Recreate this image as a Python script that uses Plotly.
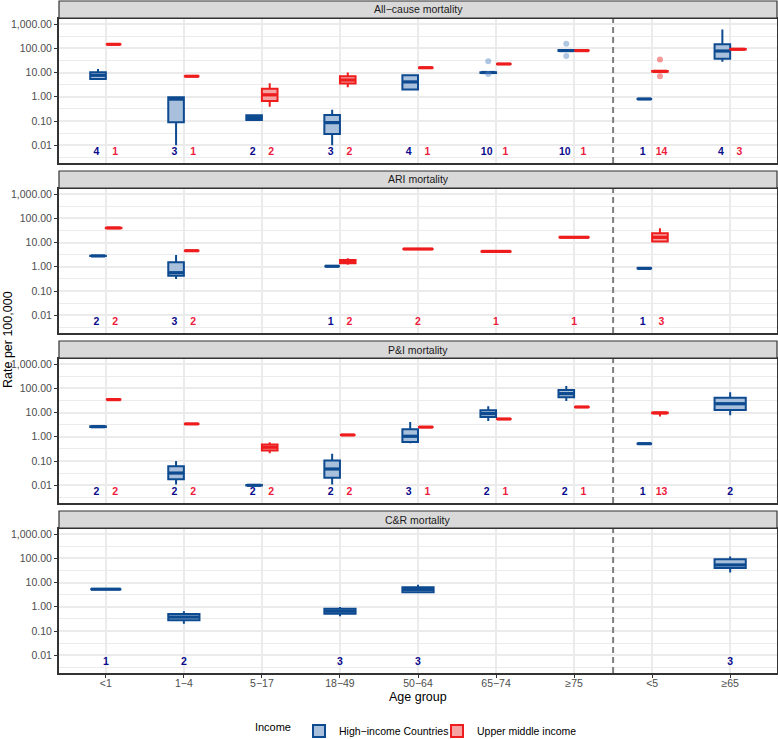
import plotly.graph_objects as go

# ---------------- data ----------------
AGE_GROUPS = ["<1", "1−4", "5−17", "18−49", "50−64", "65−74", "≥75", "<5", "≥65"]
PANEL_TITLES = ["All−cause mortality", "ARI mortality", "P&I mortality", "C&R mortality"]
INCOME_GROUPS = ["High−income Countries", "Upper middle income"]
Y_TICK_VALUES = [0.01, 0.1, 1, 10, 100, 1000]
Y_TICK_LABELS = ["0.01", "0.10", "1.00", "10.00", "100.00", "1,000.00"]
Y_MINOR_VALUES = [10 ** -2.5, 10 ** -1.5, 10 ** -0.5, 10 ** 0.5, 10 ** 1.5, 10 ** 2.5]

# box statistics per age group: (lower whisker, q1, median, q3, upper whisker); None = no data
ALLCAUSE_HIC = [(5.4, 5.4, 7.7, 10.2, 14), (0.01, 0.089, 0.8, 0.95, 1.0), (0.1, 0.11, 0.138, 0.172, 0.19),
                (0.01, 0.029, 0.086, 0.178, 0.295), (2.0, 2.0, 4.1, 7.7, 8.0), (9.6, 9.6, 10, 10.3, 10.5),
                (77, 77, 80, 84, 86), (0.81, 0.81, 0.81, 0.81, 0.81), (28, 37, 77, 146, 600)]
ALLCAUSE_UMI = [(145, 145, 145, 145, 145), (7.0, 7.0, 7.0, 7.0, 7.0), (0.39, 0.67, 1.2, 2.16, 3.6),
                (2.45, 3.5, 4.9, 7.0, 9.9), (15.8, 15.8, 15.8, 15.8, 15.8), (22.5, 22.5, 22.5, 22.5, 22.5),
                (80, 80, 80, 80, 80), (10.6, 10.8, 11.2, 11.6, 11.9), (85, 88, 91, 93, 95)]
ARI_HIC = [(2.75, 2.75, 2.8, 2.85, 2.85), (0.31, 0.43, 0.57, 1.53, 3.06), None,
           (1.05, 1.05, 1.05, 1.05, 1.05), None, None, None, (0.86, 0.86, 0.86, 0.86, 0.86), None]
ARI_UMI = [(39, 39, 40, 41, 41), (4.6, 4.6, 4.6, 4.6, 4.6), None, (1.22, 1.4, 1.62, 1.9, 2.24),
           (5.4, 5.4, 5.4, 5.4, 5.4), (4.3, 4.3, 4.3, 4.3, 4.3), (16.4, 16.4, 16.4, 16.4, 16.4),
           (10.2, 10.9, 16.4, 24, 38.5), None]
PI_HIC = [(2.5, 2.5, 2.6, 2.7, 2.7), (0.0107, 0.0177, 0.032, 0.061, 0.1), (0.0098, 0.0098, 0.01, 0.0102, 0.0102),
          (0.0107, 0.0207, 0.047, 0.104, 0.2), (0.54, 0.61, 1.05, 2.03, 4.07), (4.5, 6.5, 9.0, 12.5, 18),
          (30, 43, 60, 85, 124), (0.52, 0.52, 0.52, 0.52, 0.52), (7.7, 12.7, 23, 41, 68)]
PI_UMI = [(34, 34, 34, 34, 34), (3.4, 3.4, 3.4, 3.4, 3.4), (0.21, 0.27, 0.37, 0.48, 0.59),
          (1.19, 1.19, 1.19, 1.19, 1.19), (2.5, 2.5, 2.5, 2.5, 2.5), (5.4, 5.4, 5.4, 5.4, 5.4),
          (16.9, 16.9, 16.9, 16.9, 16.9), (6.8, 9.3, 9.6, 9.9, 10.5), None]
CR_HIC = [(5.3, 5.3, 5.3, 5.3, 5.3), (0.2, 0.28, 0.376, 0.5, 0.66), None, (0.41, 0.52, 0.66, 0.83, 0.97),
          (4.0, 4.0, 5.2, 6.4, 8.0), None, None, None, (26, 40, 53, 91, 117)]
CR_UMI = [None] * 9

# number of studies shown under each box
ALLCAUSE_N_HIC = [4, 3, 2, 3, 4, 10, 10, 1, 4]
ALLCAUSE_N_UMI = [1, 1, 2, 2, 1, 1, 1, 14, 3]
ARI_N_HIC = [2, 3, None, 1, None, None, None, 1, None]
ARI_N_UMI = [2, 2, None, 2, 2, 1, 1, 3, None]
PI_N_HIC = [2, 2, 2, 2, 3, 2, 2, 1, 2]
PI_N_UMI = [2, 2, 2, 2, 1, 1, 1, 13, None]
CR_N_HIC = [1, 2, None, 3, 3, None, None, None, 3]
CR_N_UMI = [None] * 9

# outliers: (age group, value)
ALLCAUSE_OUT_HIC = [("65−74", 29), ("65−74", 8.6), ("≥75", 155), ("≥75", 48)]
ALLCAUSE_OUT_UMI = [("<5", 34), ("<5", 7.0)]

PANEL_STATS = [(ALLCAUSE_HIC, ALLCAUSE_UMI), (ARI_HIC, ARI_UMI), (PI_HIC, PI_UMI), (CR_HIC, CR_UMI)]
PANEL_N = [(ALLCAUSE_N_HIC, ALLCAUSE_N_UMI), (ARI_N_HIC, ARI_N_UMI), (PI_N_HIC, PI_N_UMI), (CR_N_HIC, CR_N_UMI)]
PANEL_OUT = [(ALLCAUSE_OUT_HIC, ALLCAUSE_OUT_UMI), ([], []), ([], []), ([], [])]

# ---------------- style ----------------
W, H = 778, 739
ML, MR = 59, 1
BOX_LINE = ["#0D4A8F", "#EE1C1C"]
BOX_FILL = ["#A9C0DC", "#F6A3A3"]
OUT_COLOR = ["rgba(80,130,195,0.45)", "rgba(238,28,28,0.45)"]
N_COLOR = ["#0A0A8C", "#EE1C3C"]
DODGE = 0.1
LABEL_DODGE = 0.12
LABEL_Y = 0.0053
FONT = "Liberation Sans, Arial, sans-serif"
GRID = "#EBEBEB"
BORDER = "#333333"
PANEL_TOP0, PANEL_H, PANEL_STEP = 19, 144, 170
STRIP_TOP0, STRIP_H = 1, 17

def py(px):
    return 1 - px / H

fig = go.Figure()
legend_done = [False, False]
layout = {}
shapes = []
annotations = []

for k in range(4):
    xa = "x" if k == 0 else f"x{k+1}"
    ya = "y" if k == 0 else f"y{k+1}"
    top = PANEL_TOP0 + k * PANEL_STEP
    bottom = top + PANEL_H
    stats = PANEL_STATS[k]
    counts = PANEL_N[k]
    for i, grp in enumerate(AGE_GROUPS):
        present = [stats[g][i] is not None or counts[g][i] is not None for g in range(2)]
        both = all(present)
        for g in range(2):
            if not present[g]:
                continue
            off = (-DODGE if g == 0 else DODGE) if both else 0
            width = 2 * DODGE if both else 4 * DODGE
            st = stats[g][i]
            if st is not None:
                lo, q1, med, q3, hi = st
                fig.add_trace(go.Box(
                    x=[i + off], q1=[q1], median=[med], q3=[q3], lowerfence=[lo], upperfence=[hi],
                    width=width, whiskerwidth=0, boxpoints=False,
                    fillcolor=BOX_FILL[g], line=dict(color=BOX_LINE[g], width=2),
                    name=INCOME_GROUPS[g], legendgroup=INCOME_GROUPS[g],
                    showlegend=not legend_done[g], hoverinfo="skip",
                    xaxis=xa, yaxis=ya))
                legend_done[g] = True
                # thicker median line (as in ggplot's fattened median)
                fig.add_trace(go.Scatter(
                    x=[i + off - width / 2 + 0.01, i + off + width / 2 - 0.01], y=[med, med],
                    mode="lines", line=dict(color=BOX_LINE[g], width=3.2),
                    showlegend=False, hoverinfo="skip", xaxis=xa, yaxis=ya))
            n = counts[g][i]
            if n is not None:
                loff = (-LABEL_DODGE if g == 0 else LABEL_DODGE) if both else 0
                fig.add_trace(go.Scatter(
                    x=[i + loff], y=[LABEL_Y], mode="text", text=[str(n)],
                    textfont=dict(family=FONT, size=10.5, color=N_COLOR[g], weight="bold"),
                    showlegend=False, hoverinfo="skip", xaxis=xa, yaxis=ya))
    for g in range(2):
        outs = PANEL_OUT[k][g]
        if outs:
            xs = []
            for grp, v in outs:
                i = AGE_GROUPS.index(grp)
                both = stats[0][i] is not None and stats[1][i] is not None
                xs.append(i + ((-DODGE if g == 0 else DODGE) if both else 0))
            fig.add_trace(go.Scatter(
                x=xs, y=[v for _, v in outs], mode="markers",
                marker=dict(size=6, color=OUT_COLOR[g]),
                showlegend=False, hoverinfo="skip", xaxis=xa, yaxis=ya))

    layout["xaxis" if k == 0 else f"xaxis{k+1}"] = dict(
        domain=[0, 1], anchor=ya, type="linear", range=[-0.6, 8.6], automargin=False,
        tickmode="array", tickvals=list(range(len(AGE_GROUPS))), ticktext=AGE_GROUPS,
        showticklabels=(k == 3), ticks="outside" if k == 3 else "", ticklen=3, tickwidth=1.2,
        ticklabelstandoff=-4,
        tickcolor=BORDER, tickfont=dict(family=FONT, size=10.5, color="#4D4D4D"),
        showgrid=True, gridcolor=GRID, gridwidth=1.5, zeroline=False,
        showline=True, linecolor=BORDER, linewidth=2, mirror=True)
    layout["yaxis" if k == 0 else f"yaxis{k+1}"] = dict(
        domain=[py(bottom), py(top)], anchor=xa, type="log", range=[-2.73, 3.206], automargin=False,
        tickmode="array", tickvals=Y_TICK_VALUES, ticktext=Y_TICK_LABELS,
        ticks="outside", ticklen=3, tickwidth=1.2, tickcolor=BORDER,
        tickfont=dict(family=FONT, size=10.5, color="#4D4D4D"),
        showgrid=True, gridcolor=GRID, gridwidth=1.5, zeroline=False,
        minor=dict(tickvals=Y_MINOR_VALUES, showgrid=True, gridcolor=GRID, gridwidth=1, ticks=""),
        showline=True, linecolor=BORDER, linewidth=2, mirror=True)

    # dashed separator between age groups and aggregated groups
    shapes.append(dict(type="line", xref=xa, yref=f"{ya} domain", x0=6.5, x1=6.5, y0=0, y1=1,
                       line=dict(color="#7F7F7F", width=2, dash="6px,4px"), layer="above"))
    # facet strip
    stop = STRIP_TOP0 + k * PANEL_STEP
    shapes.append(dict(type="rect", xref="paper", yref="paper", x0=0, x1=1,
                       y0=py(stop + STRIP_H), y1=py(stop),
                       fillcolor="#D9D9D9", line=dict(color=BORDER, width=1.2), layer="above"))
    annotations.append(dict(xref="paper", yref="paper", x=0.5, y=py(stop + STRIP_H / 2),
                            text=PANEL_TITLES[k], showarrow=False, xanchor="center", yanchor="middle",
                            font=dict(family=FONT, size=10.5, color="#1A1A1A")))

annotations.append(dict(xref="paper", yref="paper", x=0.5, y=py(697), text="Age group",
                        showarrow=False, xanchor="center", yanchor="middle",
                        font=dict(family=FONT, size=12.5, color="black")))
annotations.append(dict(xref="paper", yref="paper", x=-(ML - 8) / (W - ML - MR), y=py(340),
                        text="Rate per 100,000", textangle=-90, showarrow=False,
                        xanchor="center", yanchor="middle",
                        font=dict(family=FONT, size=12.5, color="black")))

fig.update_layout(
    width=W, height=H, margin=dict(l=ML, r=MR, t=0, b=0, autoexpand=False),
    paper_bgcolor="white", plot_bgcolor="white",
    boxmode="overlay", shapes=shapes, annotations=annotations,
    legend=dict(orientation="h", x=0.495, xanchor="center", y=py(731), yanchor="middle",
                title=dict(text="Income", font=dict(family=FONT, size=11, color="black"), side="left"),
                font=dict(family=FONT, size=10.5, color="black"), itemwidth=30, tracegroupgap=0,
                entrywidth=93),
    **layout)

fig.write_html(
    "out.html",
    config={"displayModeBar": False},
    post_script="document.body.style.margin='0px';document.body.style.padding='0px';"
                "document.documentElement.style.overflow='hidden';document.body.style.overflow='hidden';")
